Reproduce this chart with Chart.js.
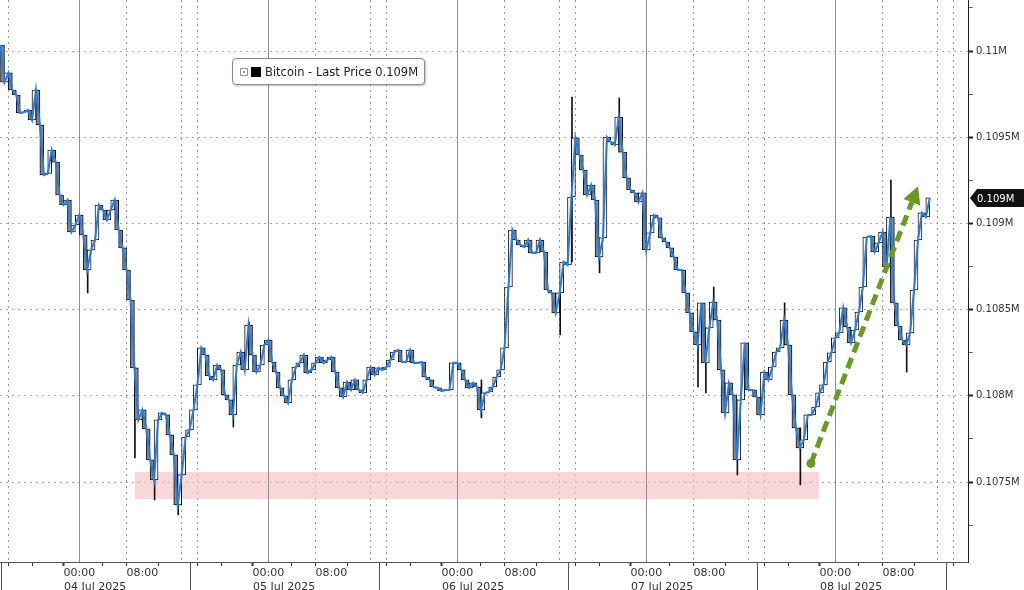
<!DOCTYPE html>
<html>
<head>
<meta charset="utf-8">
<title>Bitcoin - Last Price</title>
<script src="https://cdn.jsdelivr.net/npm/chart.js@4.4.1/dist/chart.umd.min.js"></script>
<style>
  html, body { margin: 0; padding: 0; background: #fff; }
  #wrap { position: relative; width: 1024px; height: 590px; overflow: hidden; }
  #legend {
    position: absolute; left: 232px; top: 58px; height: 27px;
    padding: 0 6px 0 7px; box-sizing: border-box;
    border: 1px solid #8a8a8a; border-radius: 4px; background: #fff;
    box-shadow: 1px 1px 2px rgba(0,0,0,0.25);
    font: 11.5px "DejaVu Sans", sans-serif; color: #222;
    display: flex; align-items: center; white-space: nowrap;
  }
  #legend .tog { width: 6px; height: 6px; border: 1px solid #9a9a9a; margin-right: 3px; position: relative; }
  #legend .tog:after { content: ''; position: absolute; left: 2px; top: 2px; width: 2px; height: 2px; background: #9a9a9a; }
  #legend .sw { width: 10px; height: 10px; background: #000; margin-right: 4px; }
</style>
</head>
<body>
<div id="wrap">
  <canvas id="btcChart" width="1024" height="590"></canvas>
  <div id="legend"><span class="tog"></span><span class="sw"></span><span id="legendText"></span></div>
</div>
<script>
// Série: fechamentos a cada 30 min, a partir de 03 Jul 14:00 (hora -10 em relação a 04 Jul 00:00)
const startHour = -10;
const stepHours = 0.5;
const closes = [
  110035, 109820, 109873, 109774, 109745, 109641, 109646, 109658, 109600, 109774,
  109571, 109281, 109290, 109426, 109356, 109165, 109107, 109136, 108950, 108991,
  109049, 108933, 108730, 108846, 108904, 109107, 109078, 109020, 109078, 109136,
  108962, 108858, 108730, 108556, 108162, 107860, 107918, 107808, 107628, 107512,
  107860, 107901, 107889, 107773, 107657, 107367, 107541, 107761, 107802, 107918,
  108063, 108278, 108237, 108115, 108092, 108179, 108150, 108005, 107976, 107889,
  108179, 108254, 108150, 108411, 108237, 108138, 108179, 108295, 108324, 108196,
  108138, 108046, 108000, 107959, 108092, 108167, 108191, 108237, 108133, 108150,
  108191, 108225, 108191, 108208, 108225, 108138, 108046, 107993, 108080, 108034,
  108092, 108034, 108017, 108092, 108167, 108121, 108162, 108150, 108167, 108208,
  108254, 108266, 108196, 108196, 108266, 108191, 108191, 108196, 108109, 108092,
  108051, 108046, 108028, 108034, 108034, 108191, 108191, 108150, 108092, 108046,
  108075, 108051, 107918, 108017, 108022, 108051, 108109, 108150, 108278, 108631,
  108962, 108904, 108875, 108863, 108904, 108829, 108829, 108904, 108834, 108614,
  108597, 108481, 108597, 108776, 108759, 109153, 109496, 109397, 109310, 109165,
  109223, 109136, 108805, 108916, 109501, 109472, 109455, 109617, 109414, 109264,
  109194, 109177, 109124, 109177, 108846, 108945, 109049, 109032, 108916, 108892,
  108858, 108805, 108730, 108730, 108597, 108481, 108371, 108295, 108539, 108191,
  108394, 108544, 108440, 108150, 107901, 108075, 108005, 107628, 107976, 108307,
  108034, 108034, 107993, 107889, 108138, 108092, 108167, 108254, 108278, 108440,
  108295, 108005, 107814, 107698, 107744, 107889, 107889, 107935, 108017, 108063,
  108196, 108249, 108336, 108365, 108510, 108399, 108307, 108382, 108486, 108631,
  108921, 108927, 108834, 108887, 108950, 108747, 109037, 108539, 108405, 108324,
  108295, 108365, 108614, 108904, 109061, 109037, 109148
];

// Pavios mais visíveis (hora, mínima, máxima)
const wickHours = [1, 7, 9.5, 12.5, 19.5, 21.5, 51, 61, 62.5, 66, 68.5, 78.5, 79.5, 80.5, 83.5, 89.5, 91.5, 103, 105];
const wickLows  = [108597, 107640, 107396, 107309, 107819, 108237, 107872, 108353, 108776, 108713, 109414, 108051, 108017, 108440, 107541, 108295, 107483, 108747, 108138];
const wickHighs = [108846, 108162, 107628, 107541, 107976, 108428, 108092, 108597, 109733, 108916, 109728, 108324, 108394, 108631, 107976, 108539, 107814, 109252, 108324];

// Eixos
const xMin = -10.07, xMax = 112.85;
const yMin = 107036, yMax = 110296;
const yTicks = [107250, 107500, 107750, 108000, 108250, 108500, 108750, 109000, 109250, 109500, 109750, 110000, 110250];
const dayLabels = ['04 Jul 2025', '05 Jul 2025', '06 Jul 2025', '07 Jul 2025', '08 Jul 2025'];
const dayStarts = [0, 24, 48, 72, 96];
const daySeparators = [-10, 14, 38, 62, 86, 110];
const dayCenters = [2, 26, 50, 74, 98];

// Anotações: faixa de suporte e seta de alta
const zoneHours = [7.07, 93.9];
const zonePrices = [107402, 107558];
const arrowFrom = [92.9, 107608];
const arrowTo = [106.5, 109215];

const hours = closes.map((c, i) => startHour + i * stepHours);
const lastPrice = closes[closes.length - 1];
const fmtM = v => (v / 1e6) + 'M';

document.getElementById('legendText').textContent =
  'Bitcoin - Last Price ' + (lastPrice / 1e6).toFixed(3) + 'M';

const xTicks = [];
for (let h = -8; h <= 112; h += 4) xTicks.push(h);
daySeparators.forEach(h => xTicks.push(h));
dayCenters.forEach(h => xTicks.push(h));
xTicks.sort((a, b) => a - b);

const hod = v => ((v % 24) + 24) % 24;
const isSep = v => daySeparators.includes(v);
const isCenter = v => dayCenters.includes(v);
const tv = c => (c && c.tick) ? c.tick.value : NaN;

const extras = {
  id: 'extras',
  beforeDatasetsDraw(chart) {
    const { ctx, chartArea: a, scales: { x, y } } = chart;
    ctx.save();
    // faixa rosa
    const zx1 = x.getPixelForValue(zoneHours[0]), zx2 = x.getPixelForValue(zoneHours[1]);
    const zy1 = y.getPixelForValue(zonePrices[1]), zy2 = y.getPixelForValue(zonePrices[0]);
    ctx.fillStyle = 'rgba(247, 196, 198, 0.7)';
    ctx.fillRect(zx1, zy1, zx2 - zx1, zy2 - zy1);
    // linhas sólidas de 00:00
    ctx.strokeStyle = '#8e8e8e';
    ctx.lineWidth = 1;
    dayStarts.forEach(h => {
      const px = Math.round(x.getPixelForValue(h)) + 0.5;
      ctx.beginPath(); ctx.moveTo(px, a.top); ctx.lineTo(px, a.bottom); ctx.stroke();
    });
    // separadores de data na área do eixo
    ctx.strokeStyle = '#555';
    daySeparators.forEach(h => {
      const px = Math.round(x.getPixelForValue(h)) + 0.5;
      ctx.beginPath(); ctx.moveTo(px, a.bottom); ctx.lineTo(px, chart.height); ctx.stroke();
    });
    ctx.restore();
  },
  afterDatasetsDraw(chart) {
    const { ctx, scales: { x, y } } = chart;
    const x1 = x.getPixelForValue(arrowFrom[0]), y1 = y.getPixelForValue(arrowFrom[1]);
    const x2 = x.getPixelForValue(arrowTo[0]), y2 = y.getPixelForValue(arrowTo[1]);
    const ang = Math.atan2(y2 - y1, x2 - x1);
    const head = 17, half = 9;
    const bx = x2 - head * Math.cos(ang), by = y2 - head * Math.sin(ang);
    ctx.save();
    ctx.strokeStyle = '#6b9a22';
    ctx.fillStyle = '#6b9a22';
    ctx.lineWidth = 5;
    ctx.setLineDash([11, 6]);
    ctx.beginPath(); ctx.moveTo(x1, y1); ctx.lineTo(bx, by); ctx.stroke();
    ctx.setLineDash([]);
    ctx.beginPath();
    ctx.moveTo(x2, y2);
    ctx.lineTo(bx + half * Math.cos(ang + Math.PI / 2), by + half * Math.sin(ang + Math.PI / 2));
    ctx.lineTo(bx - half * Math.cos(ang + Math.PI / 2), by - half * Math.sin(ang + Math.PI / 2));
    ctx.closePath(); ctx.fill();
    ctx.beginPath(); ctx.arc(x1, y1, 4.5, 0, Math.PI * 2); ctx.fill();
    ctx.restore();
  },
  afterDraw(chart) {
    // etiqueta do último preço
    const { ctx, chartArea: a, scales: { y } } = chart;
    const py = Math.round(y.getPixelForValue(lastPrice));
    const left = a.right + 2, h = 9;
    ctx.save();
    ctx.fillStyle = '#111';
    ctx.beginPath();
    ctx.moveTo(left, py);
    ctx.lineTo(left + 7, py - h);
    ctx.lineTo(chart.width, py - h);
    ctx.lineTo(chart.width, py + h);
    ctx.lineTo(left + 7, py + h);
    ctx.closePath(); ctx.fill();
    ctx.fillStyle = '#fff';
    ctx.font = '10px "DejaVu Sans"';
    ctx.textBaseline = 'middle';
    ctx.fillText((lastPrice / 1e6).toFixed(3) + 'M', left + 7, py + 1);
    ctx.restore();
  }
};

const ctx = document.getElementById('btcChart').getContext('2d');
new Chart(ctx, {
  type: 'line',
  data: {
    datasets: [{
      type: 'line',
      data: closes.map((c, i) => ({ x: hours[i], y: c })),
      borderColor: '#2f7bd4',
      borderWidth: 2.1,
      pointRadius: 0,
      tension: 0,
      order: 0
    }, {
      type: 'bar',
      data: closes.map((c, i) => ({ x: hours[i], y: [i ? closes[i - 1] : c, c] })),
      backgroundColor: c => (c.raw && c.raw.y[1] >= c.raw.y[0]) ? '#ffffff' : '#8a8a8a',
      borderColor: '#111',
      borderWidth: 1,
      borderSkipped: false,
      barThickness: 4,
      order: 1
    }, {
      type: 'bar',
      data: wickHours.map((h, i) => ({ x: h, y: [wickLows[i], wickHighs[i]] })),
      backgroundColor: '#111',
      borderWidth: 0,
      barThickness: 1,
      order: 2
    }]
  },
  options: {
    responsive: false,
    animation: false,
    layout: { padding: 0 },
    plugins: { legend: { display: false }, tooltip: { enabled: false } },
    scales: {
      x: {
        type: 'linear', min: xMin, max: xMax, offset: false,
        afterBuildTicks: s => { s.ticks = xTicks.map(v => ({ value: v })); },
        afterFit: s => { s.height = 28; s.paddingLeft = 0; s.paddingRight = 0; },
        grid: {
          color: c => {
            const v = tv(c);
            if (isSep(v)) return '#9a9a9a';
            const h = hod(v);
            return (h === 8 || h === 16) ? '#9a9a9a' : 'rgba(0,0,0,0)';
          },
          tickLength: 4,
          tickColor: c => (isSep(tv(c)) || isCenter(tv(c))) ? 'rgba(0,0,0,0)' : '#333',
          tickWidth: c => hod(tv(c)) === 0 ? 2 : 1
        },
        border: { color: '#555', width: 1, dash: [2, 4] },
        ticks: {
          autoSkip: false, maxRotation: 0, padding: 1, color: '#333',
          font: { family: 'DejaVu Sans', size: 11, lineHeight: 1.2 },
          callback: v => {
            const i = dayCenters.indexOf(v);
            if (i >= 0) return ['', dayLabels[i]];
            if (isSep(v)) return '';
            const h = hod(v);
            if (h === 0) return ['00:00', ''];
            if (h === 8) return ['08:00', ''];
            return '';
          }
        }
      },
      y: {
        position: 'right', min: yMin, max: yMax,
        afterBuildTicks: s => { s.ticks = yTicks.map(v => ({ value: v })); },
        afterFit: s => { s.width = 56; s.paddingTop = 0; s.paddingBottom = 0; },
        grid: {
          color: c => tv(c) % 500 === 0 ? '#a8a8a8' : 'rgba(0,0,0,0)',
          tickLength: 5,
          tickColor: c => tv(c) % 500 === 0 ? '#222' : '#666',
          tickWidth: c => tv(c) % 500 === 0 ? 2 : 1
        },
        border: { color: '#222', width: 1, dash: [2, 4] },
        ticks: {
          padding: 3, color: '#333',
          font: { family: 'DejaVu Sans', size: 10 },
          callback: v => v % 500 === 0 ? fmtM(v) : ''
        }
      }
    }
  },
  plugins: [extras]
});
</script>
</body>
</html>
